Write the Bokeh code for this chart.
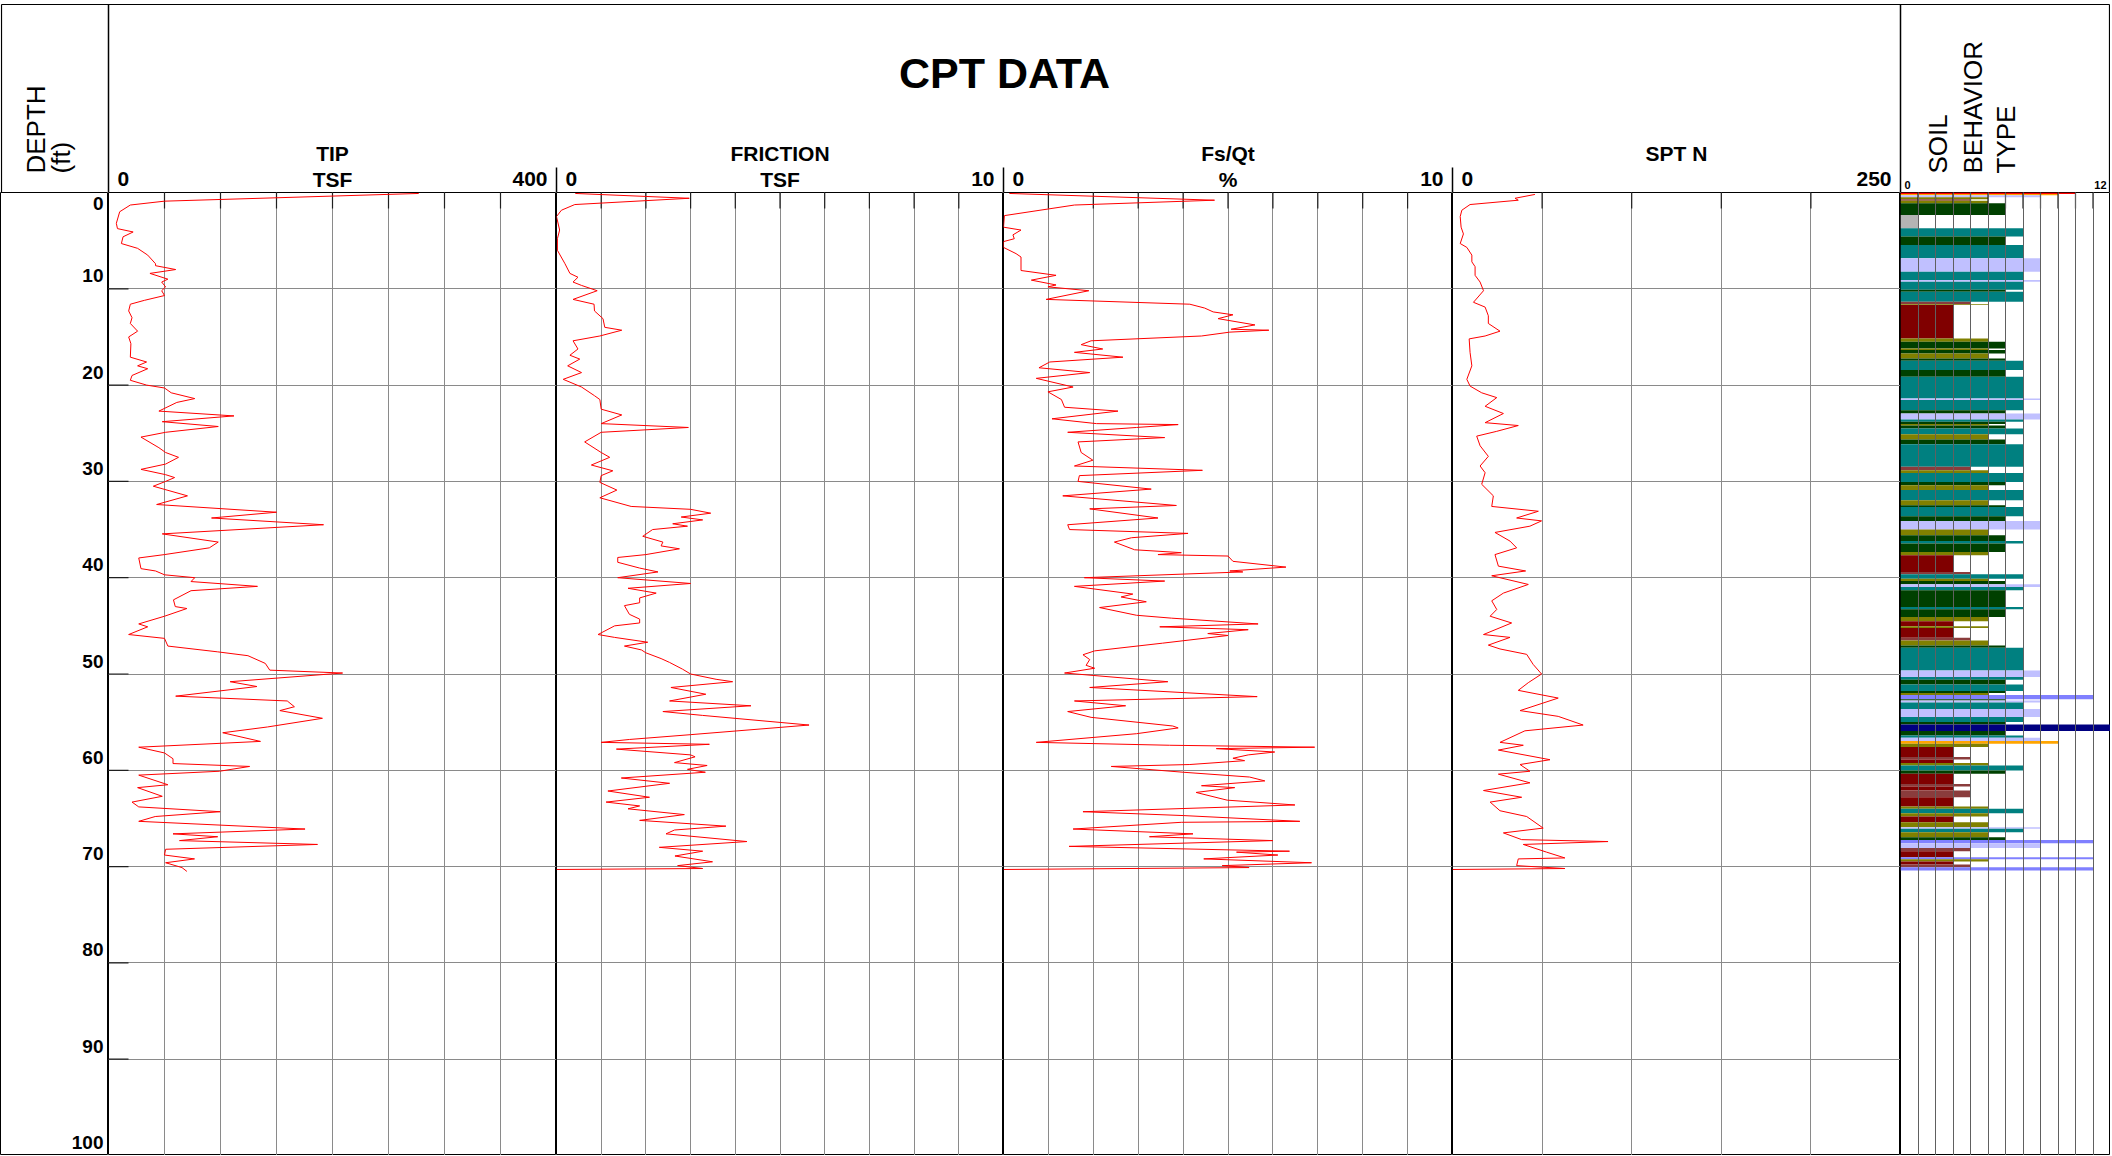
import math
from bokeh.plotting import figure
from bokeh.layouts import column, row
from bokeh.models import Range1d, Grid, FixedTicker
from bokeh.embed import file_html
from bokeh.resources import INLINE
from bokeh.core.properties import value

FONT = value("Liberation Sans")

# ---------------- data (depth ft, value) ----------------
tip_profile = [(0.1, 277), (0.9, 50), (1.3, 19.5), (2.0, 10), (3.2, 7), (3.75, 8), (4.1, 22), (4.6, 13),
    (5.3, 11.5), (5.8, 26), (6.5, 35), (7.4, 42), (7.6, 42), (8.0, 60), (8.4, 37), (9.0, 53), (9.3, 47.5),
    (9.8, 51), (10.2, 47.5), (10.7, 50), (11.2, 32), (11.6, 19.5), (12.3, 18), (13.0, 21), (13.6, 19.5),
    (14.4, 26), (15.0, 18), (15.7, 20), (17.1, 19.5), (17.6, 34), (18.0, 26), (18.3, 35), (19.0, 21),
    (19.5, 19.5), (20.0, 34), (20.3, 50), (20.8, 56), (21.4, 77), (21.8, 61), (22.7, 45), (23.2, 112),
    (23.8, 48), (24.3, 98), (24.9, 51), (25.4, 29), (26.5, 45), (27.0, 51), (27.5, 62.5), (28.2, 51),
    (28.75, 29), (29.3, 51), (29.6, 59), (30.0, 51), (30.5, 40), (31.5, 70.5), (32.4, 43), (33.2, 150),
    (33.8, 92), (34.5, 192), (35.45, 48), (36.3, 98), (36.9, 90), (37.6, 50), (37.95, 27), (39.06, 29),
    (39.3, 42), (39.7, 50), (40.0, 77), (40.4, 73.7), (40.9, 133), (41.35, 73.7), (42.3, 58), (43.0, 59.6),
    (43.2, 70), (44.0, 50), (44.8, 27), (45.1, 35), (45.9, 18), (46.3, 50), (47.1, 53), (47.7, 97.5),
    (48.1, 124.5), (48.9, 140), (49.6, 144), (49.9, 209), (50.8, 108.6), (51.3, 132.5), (52.3, 60),
    (52.8, 159.6), (53.4, 166), (53.8, 153), (54.6, 191), (55.5, 142), (56.1, 102), (57.0, 135.7),
    (57.6, 27), (58.2, 50), (58.8, 57.6), (59.3, 57.6), (59.6, 126), (60.1, 99), (60.5, 27), (61.5, 53),
    (61.8, 26), (62.7, 48), (63.3, 21), (63.8, 27), (64.3, 99.7), (64.8, 41.7), (65.3, 27), (66.1, 175.5),
    (66.6, 57.6), (66.9, 97.5), (67.3, 63.4), (67.7, 186.6), (68.2, 51), (68.8, 50), (69.2, 76.8),
    (69.6, 51), (70.1, 65.6), (70.5, 70)]

friction_profile = [(0.1, 0.42), (0.6, 2.97), (1.25, 0.41), (1.84, 0.11), (2.5, 0.0), (3.9, 0.07), (4.8, 0.02),
    (6.0, 0.02), (7.4, 0.19), (8.4, 0.3), (8.8, 0.48), (9.3, 0.37), (9.65, 0.56), (10.2, 0.91), (11.1, 0.37),
    (11.6, 0.84), (12.3, 0.85), (13.1, 1.04), (14.0, 1.08), (14.3, 1.46), (14.9, 0.97), (15.4, 0.37),
    (16.25, 0.48), (16.9, 0.3), (17.3, 0.52), (18.0, 0.25), (18.7, 0.56), (19.4, 0.15), (20.2, 0.56),
    (21.1, 0.85), (21.5, 0.97), (22.5, 1.0), (23.1, 1.46), (24.0, 1.0), (24.4, 2.95), (24.9, 1.0),
    (25.9, 0.63), (27.0, 1.0), (27.5, 1.19), (28.3, 0.78), (28.9, 1.26), (29.4, 1.0), (30.1, 0.97),
    (30.9, 1.35), (31.7, 0.97), (32.6, 1.67), (32.9, 3.0), (33.3, 3.45), (33.7, 2.79), (34.0, 3.27),
    (34.4, 2.6), (34.65, 2.93), (35.0, 2.15), (35.7, 1.93), (36.3, 2.38), (36.7, 2.34), (37.0, 2.75),
    (37.6, 2.0), (37.9, 1.37), (38.4, 1.37), (39.0, 1.86), (39.4, 2.27), (40.0, 1.37), (40.6, 3.0),
    (41.1, 1.6), (41.6, 2.23), (42.1, 1.86), (42.6, 1.86), (42.9, 1.52), (43.8, 1.63), (44.3, 1.86),
    (44.7, 1.86), (45.0, 1.3), (45.9, 0.93), (46.2, 1.3), (46.7, 2.04), (47.1, 1.52), (47.5, 1.9),
    (47.8, 2.0), (48.4, 2.34), (48.8, 2.53), (49.5, 2.82), (50.0, 3.0), (50.55, 3.57), (50.8, 3.94),
    (51.4, 2.56), (52.1, 3.34), (52.8, 2.53), (53.3, 4.35), (53.9, 2.38), (54.3, 3.27), (55.3, 5.65),
    (56.3, 3.0), (56.8, 1.63), (57.1, 1.0), (57.3, 3.42), (57.8, 1.34), (58.4, 3.0), (58.6, 3.1),
    (59.2, 2.64), (59.5, 3.37), (59.9, 2.93), (60.2, 3.33), (60.8, 1.45), (61.35, 2.53), (62.15, 1.15),
    (62.8, 2.08), (63.3, 1.11), (63.7, 1.86), (64.0, 1.6), (64.6, 2.86), (65.2, 1.86), (65.8, 3.79),
    (66.2, 2.64), (66.6, 2.45), (67.4, 4.26), (68.0, 2.3), (68.4, 3.27), (68.9, 2.65), (69.5, 3.49),
    (69.9, 2.71), (70.2, 3.27), (70.3, 0.0)]

fsqt_profile = [(0.1, 0.13), (0.8, 4.7), (1.3, 1.58), (2.4, 0.02), (3.6, 0.0), (3.9, 0.39), (4.4, 0.21),
    (4.8, 0.24), (5.1, 0.0), (5.7, 0.0), (6.35, 0.28), (6.7, 0.39), (8.1, 0.39), (8.6, 1.17), (9.1, 0.62),
    (9.6, 1.17), (9.8, 0.99), (10.2, 1.9), (11.1, 0.95), (11.6, 4.15), (12.0, 4.48), (12.4, 4.67),
    (12.7, 5.11), (13.1, 4.78), (13.75, 5.6), (14.2, 5.07), (14.3, 5.91), (14.5, 5.04), (14.9, 4.41),
    (15.4, 1.95), (15.8, 1.73), (16.25, 2.21), (16.6, 1.58), (17.1, 2.66), (17.6, 1.03), (18.2, 0.79),
    (18.7, 1.92), (19.3, 0.73), (20.2, 1.55), (20.7, 0.99), (21.5, 1.29), (22.3, 1.36), (22.7, 2.55),
    (23.5, 1.08), (24.0, 2.07), (24.1, 3.89), (24.4, 2.96), (24.9, 1.43), (25.45, 3.59), (25.9, 1.66),
    (27.0, 1.73), (27.8, 1.99), (28.4, 1.58), (28.85, 4.43), (29.4, 1.69), (30.0, 1.66), (30.8, 3.29),
    (31.5, 1.32), (32.5, 3.85), (32.85, 1.92), (33.8, 3.44), (34.5, 1.43), (35.0, 1.47), (35.4, 4.11),
    (35.85, 2.85), (36.3, 2.47), (37.1, 2.92), (37.4, 3.96), (37.6, 3.44), (37.75, 5.0), (38.3, 5.11),
    (38.9, 6.29), (39.3, 5.04), (39.4, 5.33), (40.0, 1.8), (40.35, 3.59), (40.9, 1.58), (41.7, 2.88),
    (42.0, 2.62), (42.5, 3.18), (43.1, 2.14), (43.9, 2.96), (44.2, 3.74), (44.8, 5.67), (45.1, 3.48),
    (45.4, 5.45), (45.8, 4.55), (46.0, 5.0), (46.8, 3.54), (47.6, 2.03), (48.0, 1.77), (48.5, 1.92),
    (49.1, 1.84), (49.4, 2.03), (49.9, 1.36), (50.8, 3.66), (51.4, 1.92), (52.35, 5.65), (52.8, 1.58),
    (53.3, 2.72), (53.9, 1.43), (54.5, 1.95), (55.4, 3.77), (55.6, 3.89), (56.2, 2.96), (57.1, 0.73),
    (57.4, 3.7), (57.6, 6.93), (57.75, 4.74), (58.1, 6.04), (58.4, 5.45), (58.75, 5.11), (59.0, 5.37),
    (59.4, 4.15), (59.6, 2.4), (60.2, 4.0), (60.7, 5.48), (61.1, 5.82), (61.6, 4.41), (61.8, 5.15),
    (62.3, 4.29), (63.1, 4.98), (63.6, 6.49), (64.3, 1.77), (64.7, 4.0), (65.3, 6.6), (65.4, 3.96),
    (66.1, 1.55), (66.6, 4.22), (66.9, 3.25), (67.3, 6.0), (67.9, 1.46), (68.4, 6.37), (68.5, 5.19),
    (68.8, 6.11), (69.2, 4.46), (69.6, 6.86), (69.9, 4.87), (70.1, 5.47), (70.3, 0.0)]

spt_profile = [(0.2, 46), (0.6, 34.9), (0.8, 36.7), (1.25, 9.8), (1.84, 5.2), (2.5, 4.3), (3.6, 4.8),
    (4.3, 6.1), (5.3, 4.3), (5.7, 8.0), (6.5, 10.8), (7.2, 10.8), (7.7, 12.6), (8.6, 12.6), (9.3, 15.4),
    (10.2, 17.3), (11.4, 11.7), (11.9, 18.2), (12.8, 20), (13.6, 20), (14.4, 26.5), (14.9, 18.2),
    (15.2, 9.3), (16.6, 9.8), (18.0, 10.8), (19.4, 8.0), (20.1, 9.8), (20.8, 16.3), (21.3, 24.7),
    (22.2, 18.2), (22.95, 28.4), (23.9, 18.2), (24.2, 36.7), (24.8, 24.7), (25.3, 13.5), (26.3, 15.4),
    (27.4, 20), (28.4, 15.4), (29.1, 18.2), (30.3, 16.3), (31.5, 22.8), (32.6, 21.9), (33.1, 47.9),
    (33.8, 35.8), (34.1, 49.7), (34.65, 43.2), (35.3, 23.7), (36.2, 32.1), (36.9, 35.8), (37.6, 23.7),
    (38.8, 25.6), (39.3, 40.8), (39.8, 21.9), (40.7, 42.3), (41.6, 28.4), (42.4, 21.9), (43.3, 24.7),
    (44.0, 21), (44.7, 33), (45.9, 17.3), (46.2, 32.1), (47.0, 20), (47.4, 26.5), (47.96, 41.4),
    (49.0, 45), (50.0, 49.7), (50.9, 42.3), (51.7, 36.7), (52.5, 59), (53.8, 37.7), (54.4, 59),
    (55.3, 72.9), (55.9, 40.4), (57.1, 26.5), (57.4, 39.5), (57.9, 25.6), (58.9, 54.4), (59.4, 37.7),
    (60.1, 43.2), (60.4, 25.6), (61.3, 43.2), (62.1, 17.3), (62.8, 38.6), (63.3, 21), (64.2, 26.5),
    (64.8, 41.4), (66.0, 50.6), (66.5, 28.4), (67.2, 38.6), (67.4, 86.8), (67.7, 39.5), (68.5, 52.5),
    (69.1, 62.7), (69.2, 36.7), (69.9, 35.8), (70.2, 62.7), (70.3, 0.0)]

# soil behaviour type layers: (top depth ft, zone); each layer ends where the next begins
sbt_layers = [(0.0, 10), (0.15, 9), (0.28, 8), (0.5, 5), (0.7, 4), (0.85, 5), (1.12, 6), (2.33, 1), (3.72, 7),
    (4.58, 6), (5.45, 7), (6.83, 8), (8.22, 7), (9.09, 8), (9.26, 7), (10.1, 6), (10.3, 7), (11.34, 4),
    (11.6, 5), (11.68, 3), (15.15, 5), (15.5, 6), (16.19, 5), (16.36, 6), (16.71, 5), (17.23, 6), (17.47, 7),
    (18.44, 6), (19.13, 7), (21.39, 8), (21.56, 7), (22.6, 6), (22.94, 8), (23.57, 7), (23.81, 6),
    (24.05, 5), (24.2, 6), (24.5, 7), (25.1, 5), (25.65, 6), (26.13, 7), (28.49, 4), (28.84, 5), (29.12, 7),
    (30.05, 6), (30.4, 5), (30.9, 7), (31.95, 5), (32.47, 6), (32.65, 7), (33.62, 6), (34.1, 8), (35.0, 5),
    (35.59, 6), (36.18, 7), (36.46, 6), (37.32, 5), (37.67, 3), (39.4, 4), (39.65, 7), (40.1, 5),
    (40.34, 6), (40.69, 8), (40.96, 7), (41.31, 6), (43.04, 7), (43.28, 6), (44.08, 5), (44.53, 3),
    (45.05, 5), (45.23, 3), (46.23, 4), (46.51, 5), (47.03, 6), (47.27, 7), (49.63, 8), (50.32, 7),
    (50.6, 6), (51.08, 7), (51.77, 6), (51.98, 5), (52.19, 11), (52.61, 6), (52.74, 8), (52.95, 7),
    (53.64, 8), (54.47, 7), (54.99, 6), (55.24, 12), (55.93, 6), (56.38, 7), (56.62, 8), (56.96, 9),
    (57.24, 5), (57.59, 3), (58.63, 4), (58.87, 3), (59.25, 5), (59.5, 7), (60.02, 6), (60.37, 3),
    (61.41, 4), (61.68, 3), (62.1, 4), (62.79, 3), (63.76, 5), (64.0, 7), (64.46, 5), (64.8, 3),
    (65.39, 5), (65.91, 8), (66.08, 7), (66.43, 5), (66.95, 6), (67.23, 11), (67.57, 8), (68.06, 4),
    (68.4, 3), (69.03, 11), (69.24, 5), (69.48, 3), (69.79, 4), (70.06, 11)]
sbt_end_depth = 70.4
zone_colors = ["#b4b4b4", "#804000", "#800000", "#8a3c3c", "#808000", "#004000",
               "#008080", "#c0c0ff", "#ffa500", "#ff0000", "#8080ff", "#000080"]

depth_ticks = [0, 10, 20, 30, 40, 50, 60, 70, 80, 90, 100]
panel_titles = [("TIP", "TSF"), ("FRICTION", "TSF"), ("Fs/Qt", "%"), ("SPT N", "")]
panel_max = [400, 10, 10, 250]
panel_step = [50, 1, 1, 50]
sbt_max = 12

# ---------------- layout sizes ----------------
W_DEPTH = 108
W_PANELS = [448, 447, 449, 448]
W_SBT = 210
H_HEAD = 192
H_PLOT = 963
PX_PER_FT = H_PLOT / 100.0

yr = Range1d(start=100, end=0)
inner_grid = depth_ticks[1:-1]


def base_fig(width, xmax):
    p = figure(width=width, height=H_PLOT, x_range=Range1d(0, xmax), y_range=yr, title=None,
               x_axis_type=None, y_axis_type=None, toolbar_location=None,
               output_backend="svg", min_border=0)
    p.outline_line_color = "black"
    p.outline_line_width = 1
    p.background_fill_color = "white"
    p.border_fill_color = "white"
    return p


def add_stubs(p, ticks):
    stub = 16 / PX_PER_FT
    p.segment(x0=ticks, y0=[0] * len(ticks), x1=ticks, y1=[stub] * len(ticks),
              line_color="#202020", line_width=1.2)


# depth column
depth_fig = base_fig(W_DEPTH, W_DEPTH)
depth_fig.text(x=[W_DEPTH - 5] * (len(depth_ticks) - 1), y=depth_ticks[1:],
               text=[str(t) for t in depth_ticks[1:]], text_align="right",
               text_baseline="middle", y_offset=-13, text_font=FONT,
               text_font_style="bold", text_font_size="19px", text_color="black")
depth_fig.text(x=[W_DEPTH - 5], y=[depth_ticks[0]], text=[str(depth_ticks[0])],
               text_align="right", text_baseline="middle", y_offset=11, text_font=FONT,
               text_font_style="bold", text_font_size="19px", text_color="black")

profiles = [tip_profile, friction_profile, fsqt_profile, spt_profile]
panel_figs = []
for i, prof in enumerate(profiles):
    xmax = panel_max[i]
    step = panel_step[i]
    n = int(round(xmax / step))
    xt = [step * k for k in range(1, n)]
    p = base_fig(W_PANELS[i], xmax)
    p.add_layout(Grid(dimension=0, ticker=FixedTicker(ticks=xt),
                      grid_line_color="#8a8a8a", grid_line_width=1))
    p.add_layout(Grid(dimension=1, ticker=FixedTicker(ticks=inner_grid),
                      grid_line_color="#8a8a8a", grid_line_width=1))
    add_stubs(p, xt)
    if i == 0:
        tick_len = xmax * 20.0 / W_PANELS[i]
        p.segment(x0=[0] * len(inner_grid), y0=inner_grid, x1=[tick_len] * len(inner_grid),
                  y1=inner_grid, line_color="#202020", line_width=1.2)
    d = [a for a, b in prof]
    v = [b for a, b in prof]
    p.line(x=v, y=d, line_color="#ff0000", line_width=1)
    panel_figs.append(p)

# soil behaviour type column
sbt_fig = base_fig(W_SBT, sbt_max)
tops = [a for a, z in sbt_layers]
zones = [z for a, z in sbt_layers]
bottoms = tops[1:] + [sbt_end_depth]
sbt_fig.quad(left=[0] * len(zones), right=zones, top=tops, bottom=bottoms,
             fill_color=[zone_colors[z - 1] for z in zones], line_color=None)
sbt_ticks = list(range(1, sbt_max))
sbt_fig.add_layout(Grid(dimension=0, ticker=FixedTicker(ticks=sbt_ticks),
                        grid_line_color="#606060", grid_line_width=1, level="overlay"))
add_stubs(sbt_fig, sbt_ticks)

# ---------------- header ----------------
W_TOTAL = W_DEPTH + sum(W_PANELS) + W_SBT
head = figure(width=W_TOTAL, height=H_HEAD, x_range=Range1d(0, W_TOTAL), y_range=Range1d(0, H_HEAD),
              title=None, x_axis_type=None, y_axis_type=None, toolbar_location=None,
              output_backend="svg", min_border=0)
head.outline_line_color = None

lefts = []
acc = W_DEPTH
for w in W_PANELS:
    lefts.append(acc)
    acc += w
sbt_left = acc
TOP = H_HEAD - 4

# frame lines of the header
head.segment(x0=[1, 1, W_TOTAL - 1], y0=[TOP, 0, 0], x1=[W_TOTAL - 1, 1, W_TOTAL - 1], y1=[TOP, TOP, TOP],
             line_color="black", line_width=1.2)
# full-height separators
head.segment(x0=[W_DEPTH, sbt_left], y0=[0, 0], x1=[W_DEPTH, sbt_left], y1=[TOP, TOP],
             line_color="black", line_width=1.5)
# short separators between panels
head.segment(x0=lefts[1:], y0=[0] * 3, x1=lefts[1:], y1=[25] * 3, line_color="black", line_width=1.5)

head.text(x=[(W_DEPTH + sbt_left) / 2], y=[119.5], text=["CPT DATA"], text_align="center",
          text_baseline="middle", text_font=FONT, text_font_style="bold",
          text_font_size="43px", text_color="black")

centers = [lefts[i] + W_PANELS[i] / 2 for i in range(4)]
head.text(x=centers, y=[39] * 4, text=[t[0] for t in panel_titles], text_align="center",
          text_baseline="middle", text_font=FONT, text_font_style="bold",
          text_font_size="21px", text_color="black")
head.text(x=centers, y=[13.5] * 4, text=[t[1] for t in panel_titles], text_align="center",
          text_baseline="middle", text_font=FONT, text_font_style="bold",
          text_font_size="21px", text_color="black")
head.text(x=[l + 9 for l in lefts], y=[13.5] * 4, text=["0"] * 4, text_align="left",
          text_baseline="middle", text_font=FONT, text_font_style="bold",
          text_font_size="21px", text_color="black")
head.text(x=[lefts[i] + W_PANELS[i] - 9 for i in range(4)], y=[13.5] * 4,
          text=[str(m) for m in panel_max], text_align="right",
          text_baseline="middle", text_font=FONT, text_font_style="bold",
          text_font_size="21px", text_color="black")
head.text(x=[sbt_left + 4], y=[8], text=["0"], text_align="left", text_baseline="middle",
          text_font=FONT, text_font_style="bold", text_font_size="11px", text_color="black")
head.text(x=[W_TOTAL - 4], y=[8], text=[str(sbt_max)], text_align="right", text_baseline="middle",
          text_font=FONT, text_font_style="bold", text_font_size="11px", text_color="black")

# rotated labels
head.text(x=[35, 60], y=[19, 19], text=["DEPTH", "(ft)"], angle=math.pi / 2, text_align="left",
          text_baseline="middle", text_font=FONT, text_font_size="26px", text_color="black")
head.text(x=[sbt_left + 37, sbt_left + 72, sbt_left + 105], y=[19, 19, 19],
          text=["SOIL", "BEHAVIOR", "TYPE"], angle=math.pi / 2, text_align="left",
          text_baseline="middle", text_font=FONT, text_font_size="26px", text_color="black")

layout = column(head, row(depth_fig, *panel_figs, sbt_fig, spacing=0), spacing=0)

open("out.html", "w").write(file_html(layout, INLINE))
